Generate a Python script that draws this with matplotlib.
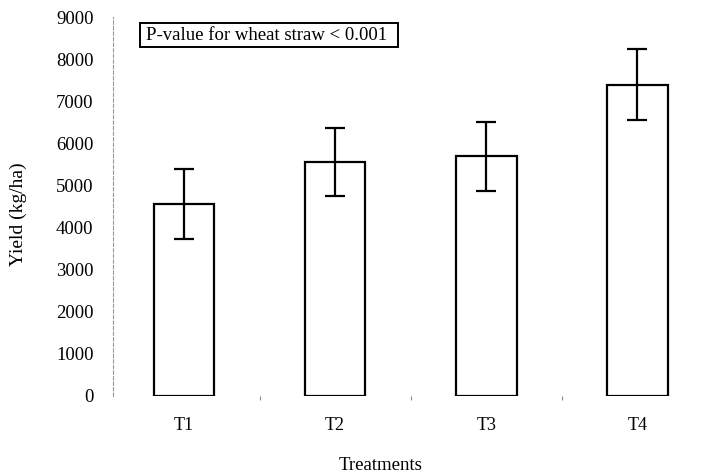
import matplotlib
matplotlib.use("Agg")
from matplotlib import pyplot as plt
from matplotlib.patches import Rectangle

# data
treatments = ["T1", "T2", "T3", "T4"]
yield_kg = [4550, 5560, 5690, 7390]
yield_err = [830, 805, 820, 840]
yticks = [0, 1000, 2000, 3000, 4000, 5000, 6000, 7000, 8000, 9000]
note = "P-value for wheat straw < 0.001"

plt.rcParams['font.family'] = ['Liberation Serif', 'DejaVu Serif']

fig = plt.figure(figsize=(7.07, 4.76), dpi=100)
ax = fig.add_axes([113/707, 1 - 396/476, 594/707, 379/476])

x = range(len(treatments))
ax.bar(x, yield_kg, width=0.4, color='white', edgecolor='black', linewidth=1.6)
ax.errorbar(x, yield_kg, yerr=yield_err, fmt='none', ecolor='black',
            elinewidth=1.6, capsize=7, capthick=1.6)

ax.set_xlim(-0.47, 3.46)
ax.set_ylim(0, 9000)
ax.set_yticks(yticks)
ax.set_yticklabels([str(v) for v in yticks], fontsize=13.5)
ax.set_xticks(list(x))
ax.set_xticklabels(treatments, fontsize=13)
ax.set_xticks([0.5, 1.5, 2.5], minor=True)
ax.tick_params(axis='y', length=0, pad=14)
ax.tick_params(axis='x', which='major', length=0, pad=15)
ax.tick_params(axis='x', which='minor', length=3, color='#888888', width=0.8)

for s in ['top', 'right', 'bottom']:
    ax.spines[s].set_visible(False)
ax.spines['left'].set_color('#999999')
ax.spines['left'].set_linestyle((0, (3, 2)))
ax.spines['left'].set_linewidth(0.8)

ax.set_ylabel("Yield (kg/ha)", fontsize=14)
ax.yaxis.set_label_coords(-0.145, 0.48)
ax.set_xlabel("Treatments", fontsize=13.5)
ax.xaxis.set_label_coords(0.45, -0.16)

# annotation box
fig.patches.append(Rectangle((140/707, 1 - 47/476), 258/707, 24/476,
                             transform=fig.transFigure, fill=False,
                             edgecolor='black', linewidth=1.4))
fig.text(146/707, 1 - 36/476, note, fontsize=13.5, va='center', ha='left')

fig.savefig('out.png', dpi=100)
